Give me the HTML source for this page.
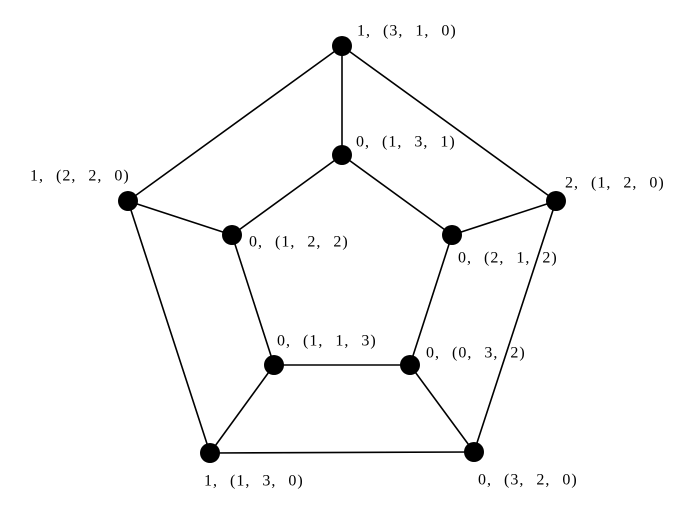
<!DOCTYPE html>
<html><head><meta charset="utf-8"><style>html,body{margin:0;padding:0;background:#fff}</style></head>
<body>
<svg width="683" height="514" viewBox="0 0 683 514" xmlns="http://www.w3.org/2000/svg">
<g stroke="#000" stroke-width="1.6" fill="none">
<line x1="342" y1="46" x2="128" y2="201"/>
<line x1="342" y1="46" x2="556" y2="201"/>
<line x1="128" y1="201" x2="210" y2="453"/>
<line x1="556" y1="201" x2="474" y2="452"/>
<line x1="210" y1="453" x2="474" y2="452"/>
<line x1="342" y1="46" x2="342" y2="155"/>
<line x1="128" y1="201" x2="232" y2="235"/>
<line x1="556" y1="201" x2="452" y2="235"/>
<line x1="210" y1="453" x2="274" y2="365"/>
<line x1="474" y1="452" x2="410" y2="365"/>
<line x1="342" y1="155" x2="232" y2="235"/>
<line x1="342" y1="155" x2="452" y2="235"/>
<line x1="232" y1="235" x2="274" y2="365"/>
<line x1="452" y1="235" x2="410" y2="365"/>
<line x1="274" y1="365" x2="410" y2="365"/>
</g>
<g fill="#000">
<circle cx="342" cy="46" r="10"/><circle cx="128" cy="201" r="10"/><circle cx="556" cy="201" r="10"/>
<circle cx="210" cy="453" r="10"/><circle cx="474" cy="452" r="10"/><circle cx="342" cy="155" r="10"/>
<circle cx="232" cy="235" r="10"/><circle cx="452" cy="235" r="10"/><circle cx="274" cy="365" r="10"/>
<circle cx="410" cy="365" r="10"/>
</g>
<g font-family="Liberation Serif, serif" font-size="16" fill="#000" dominant-baseline="middle" word-spacing="7" letter-spacing="1">
<text x="357" y="32">1, (3, 1, 0)</text>
<text x="356" y="143">0, (1, 3, 1)</text>
<text x="30" y="177">1, (2, 2, 0)</text>
<text x="565" y="184">2, (1, 2, 0)</text>
<text x="249" y="243">0, (1, 2, 2)</text>
<text x="458" y="259">0, (2, 1, 2)</text>
<text x="277" y="342">0, (1, 1, 3)</text>
<text x="426" y="354">0, (0, 3, 2)</text>
<text x="204" y="482">1, (1, 3, 0)</text>
<text x="478" y="481">0, (3, 2, 0)</text>
</g>
</svg>
</body></html>
